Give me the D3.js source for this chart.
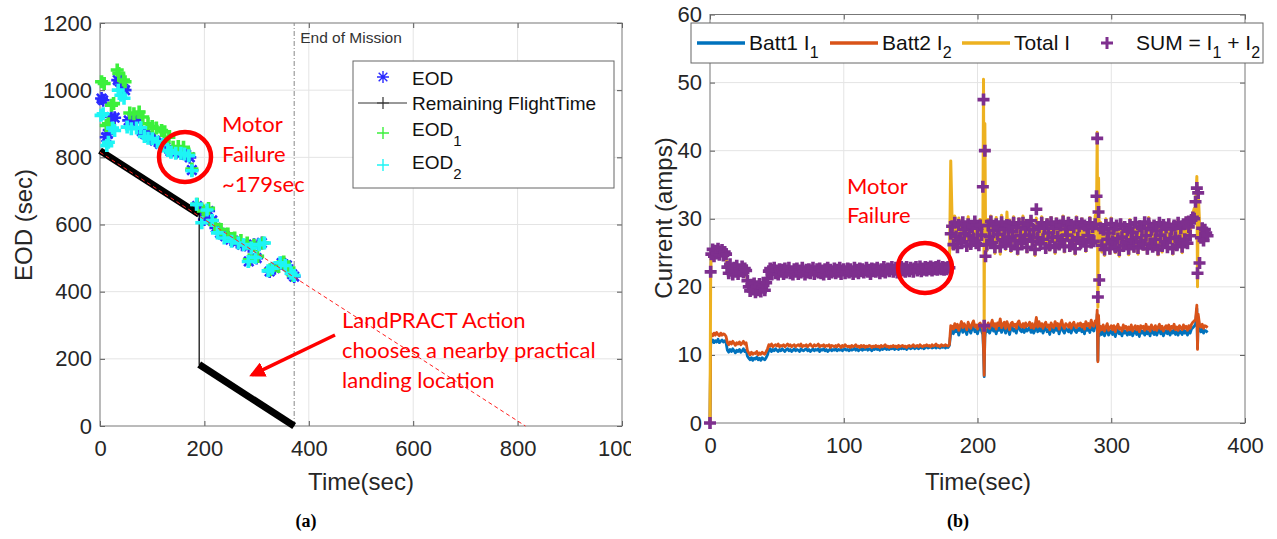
<!DOCTYPE html>
<html><head><meta charset="utf-8">
<script src="https://cdn.jsdelivr.net/npm/d3@7"></script>
<style>
body{margin:0;background:#fff;}
svg{display:block;}
</style></head><body>
<svg id="c" width="1277" height="539"></svg>
<script>
// ---------- Panel (a) data ----------
const eodTime  = [3,6,12,15,22,28,34,38,44,48,55,62,70,80,86,95,105,115,125,135,145,155,165,172,176,186,192,200,208,215,222,230,240,250,262,272,285,295,310,285,300,325,335,348,358,368,372];
const eodValue = [975,970,860,870,920,918,1030,1025,1005,1000,910,905,912,878,870,860,850,840,830,818,815,812,808,800,762,655,640,615,640,612,590,575,565,555,548,540,535,540,545,490,500,460,470,485,478,452,445];
const eod1Time  = [3,8,12,16,22,26,33,36,45,48,57,65,75,82,92,100,108,118,124,132,140,150,160,170,176,186,198,208,220,232,245,258,270,282,295,312,286,302,326,342,352,362,370];
const eod1Value = [1025,1020,895,900,955,960,1060,1050,1030,1025,932,930,935,920,900,892,887,880,876,860,830,832,830,810,765,660,640,648,600,585,572,560,552,545,538,545,495,505,465,475,488,470,448];
const eod2Time  = [2,6,13,16,24,28,35,40,46,52,60,70,78,85,92,100,110,120,130,136,145,155,162,170,176,185,195,205,215,225,238,252,265,275,290,305,315,284,298,322,330,345,355,366,372];
const eod2Value = [925,930,835,845,887,880,1000,985,976,890,885,887,888,862,857,855,846,838,820,815,812,812,810,805,760,660,605,643,612,575,560,550,545,540,530,540,545,490,502,462,470,486,478,455,448];
const remainingTime  = [0,190,190,372];
const remainingValue = [820,630,183,0];
const fitTime  = [0,815];
const fitValue = [815,0];
const endOfMission = 372;
const xTicksA = [0,200,400,600,800,1000];
const yTicksA = [0,200,400,600,800,1000,1200];

// ---------- Panel (b) data ----------
const time = [0,0.5,
1,2,3,4,5,6,7,8,9,10,11,12,13,14,15,16,17,18,19,20,
21,22,23,24,25,26,27,28,29,30,31,32,33,34,35,36,37,38,39,40,
41,42,43,44,45,46,47,48,49,50,51,52,53,54,55,56,57,58,59,60,
61,62,63,64,65,66,67,68,69,70,71,72,73,74,75,76,77,78,79,80,
81,82,83,84,85,86,87,88,89,90,91,92,93,94,95,96,97,98,99,100,
101,102,103,104,105,106,107,108,109,110,111,112,113,114,115,116,117,118,119,120,
121,122,123,124,125,126,127,128,129,130,131,132,133,134,135,136,137,138,139,140,
141,142,143,144,145,146,147,148,149,150,151,152,153,154,155,156,157,158,159,160,
161,162,163,164,165,166,167,168,169,170,171,172,173,174,175,176,177,178,
179,180,
181,182,183,184,185,186,187,188,189,190,191,192,193,194,195,196,197,198,199,200,201,202,203,
204,204.5,205,205.5,206,
207,208,209,210,211,212,213,214,215,216,217,218,219,220,221,222,223,224,225,226,
227,228,229,230,231,232,233,234,235,236,237,238,239,240,241,242,243,244,245,246,
247,248,249,250,251,252,253,254,255,256,257,258,259,260,261,262,263,264,265,266,
267,268,269,270,271,272,273,274,275,276,277,278,279,280,281,282,283,284,285,286,287,288,
289,289.5,290,290.5,291,
292,293,294,295,296,297,298,299,300,301,302,303,304,305,306,307,308,309,310,311,
312,313,314,315,316,317,318,319,320,321,322,323,324,325,326,327,328,329,330,331,
332,333,334,335,336,337,338,339,340,341,342,343,344,345,346,347,348,349,350,351,
352,353,354,355,356,357,358,359,360,361,362,
363,364,364.5,365,366,
367,368,369,370,371,372];

const batt1 = [0,11.5,
11.9,12.2,11.8,12.1,11.9,12.3,11.8,12.0,12.2,11.9,12.1,11.8,
10.7,10.4,10.8,10.5,10.9,10.6,10.3,10.7,10.5,10.8,10.4,10.6,10.9,10.5,10.7,
9.8,9.5,9.3,9.6,9.2,9.5,9.4,9.7,9.3,9.5,9.2,9.6,9.4,9.3,9.6,10.0,
10.7,10.9,10.5,10.8,10.6,10.9,10.7,10.5,10.8,10.6,
10.9,10.7,10.5,10.8,10.9,10.6,10.8,10.5,10.7,10.9,
10.6,10.8,10.7,10.5,10.9,10.7,10.6,10.8,10.9,10.6,
10.8,10.5,10.7,10.9,10.6,10.8,10.7,10.9,10.5,10.8,
10.7,10.9,10.6,10.8,10.5,10.7,10.9,10.6,10.8,10.7,
10.9,10.6,10.8,10.7,10.9,10.6,10.8,10.9,10.7,10.8,
10.6,10.9,10.7,10.8,11.0,10.7,10.9,10.6,10.8,10.9,
10.7,10.9,10.8,11.0,10.7,10.9,10.8,10.6,10.9,10.8,
11.0,10.8,10.9,10.7,11.0,10.8,10.9,11.1,10.8,10.9,
10.8,11.0,10.9,11.1,10.8,11.0,10.9,10.8,11.1,10.9,
11.0,10.9,11.1,10.8,11.0,11.1,10.9,11.0,11.2,10.9,
11.1,11.0,10.9,11.2,11.0,11.1,10.9,11.1,11.2,11.0,
11.1,11.2,11.0,11.1,11.3,11.0,11.2,11.1,11.0,11.2,
11.1,11.3,11.0,11.2,11.1,
11.4,13.2,
13.6,13.1,14.0,13.4,13.8,12.9,13.7,14.2,13.3,13.9,13.5,13.0,14.1,13.6,13.2,13.9,14.3,13.4,13.7,13.1,13.8,14.0,13.5,
13.0,10.5,6.8,12.5,13.6,
13.4,14.0,13.2,13.7,14.4,13.5,13.9,13.1,14.0,13.6,
14.6,13.3,13.8,14.1,13.2,14.2,13.6,13.0,13.9,14.1,
13.5,13.8,13.2,14.0,14.3,13.6,13.4,13.9,13.3,14.0,
13.5,13.7,14.1,13.3,13.9,13.2,13.6,14.8,13.4,14.2,
13.5,13.9,13.2,13.8,14.1,13.4,13.7,13.0,14.0,13.6,
13.3,14.2,13.6,13.9,13.1,13.8,14.4,13.5,13.2,13.9,
13.7,13.4,14.0,13.2,13.8,14.1,13.5,13.3,13.9,13.6,
14.0,13.4,13.8,13.1,14.2,13.6,13.9,13.3,14.4,13.7,
13.5,14.3,
14.2,16.0,9.2,15.2,12.8,
13.5,13.0,13.7,12.8,13.4,13.9,12.9,13.3,13.6,13.0,
13.6,12.7,13.4,13.8,13.1,13.3,12.8,13.7,13.2,13.5,
12.9,13.4,13.0,13.7,12.8,13.3,13.6,13.0,13.5,12.7,
13.6,13.2,13.5,12.9,13.8,13.1,13.4,12.8,13.7,13.3,
13.0,13.6,12.9,13.4,13.8,13.1,13.5,12.8,13.3,13.6,
13.1,13.7,12.9,13.5,13.2,13.8,13.0,13.4,12.9,13.6,
13.3,13.0,13.7,13.2,13.5,12.9,13.6,13.2,13.8,14.0,
14.2,
14.5,16.8,11.0,15.5,13.8,
13.4,13.8,13.2,13.6,13.5,13.3];

const batt2 = [0,12.5,
13.1,12.8,13.2,12.9,13.3,13.0,12.8,13.2,12.9,13.1,13.0,12.7,
11.8,11.5,11.9,11.6,12.0,11.7,11.4,11.8,11.6,11.9,11.5,11.7,12.0,11.6,11.8,
10.6,10.3,10.0,10.4,10.1,10.3,10.2,10.5,10.0,10.3,10.1,10.4,10.2,10.1,10.5,10.9,
11.5,11.3,11.6,11.2,11.4,11.5,11.3,11.6,11.2,11.4,
11.3,11.5,11.2,11.4,11.6,11.3,11.5,11.2,11.4,11.5,
11.2,11.4,11.5,11.3,11.6,11.2,11.4,11.3,11.5,11.2,
11.4,11.6,11.3,11.2,11.5,11.3,11.4,11.6,11.2,11.4,
11.3,11.5,11.2,11.4,11.3,11.5,11.1,11.4,11.3,11.2,
11.4,11.2,11.5,11.3,11.1,11.4,11.2,11.5,11.3,11.2,
11.3,11.1,11.4,11.2,11.3,11.5,11.2,11.3,11.1,11.4,
11.2,11.4,11.1,11.3,11.2,11.4,11.3,11.1,11.3,11.2,
11.4,11.2,11.3,11.1,11.4,11.2,11.3,11.5,11.2,11.3,
11.1,11.3,11.2,11.4,11.2,11.3,11.1,11.4,11.2,11.3,
11.4,11.2,11.3,11.1,11.3,11.4,11.2,11.3,11.5,11.2,
11.3,11.4,11.2,11.5,11.3,11.2,11.4,11.3,11.5,11.3,
11.4,11.2,11.5,11.3,11.4,11.6,11.3,11.4,11.2,11.5,
11.4,11.3,11.5,11.4,11.3,
11.5,14.3,
14.2,13.8,14.6,14.0,14.5,13.6,14.3,14.9,14.0,14.6,14.2,13.7,14.8,14.3,13.9,14.6,15.0,14.1,14.4,13.8,14.5,14.7,14.2,
13.8,11.0,7.0,13.0,14.4,
14.1,14.7,13.9,14.4,15.1,14.2,14.6,13.8,14.7,14.3,
15.3,14.0,14.5,14.8,13.9,14.9,14.3,13.7,14.6,14.8,
14.2,14.5,13.9,14.7,15.0,14.3,14.1,14.6,14.0,14.7,
14.2,14.4,14.8,14.0,14.6,13.9,14.3,15.5,14.1,14.9,
14.2,14.6,13.9,14.5,14.8,14.1,14.4,13.7,14.7,14.3,
14.0,14.9,14.3,14.6,13.8,14.5,15.1,14.2,13.9,14.6,
14.4,14.1,14.7,13.9,14.5,14.8,14.2,14.0,14.6,14.3,
14.7,14.1,14.5,13.8,14.9,14.3,14.6,14.0,15.1,14.4,
14.2,15.0,
14.8,16.6,9.0,15.8,13.4,
14.2,13.7,14.4,13.5,14.1,14.6,13.6,14.0,14.3,13.7,
14.3,13.4,14.1,14.5,13.8,14.0,13.5,14.4,13.9,14.2,
13.6,14.1,13.7,14.4,13.5,14.0,14.3,13.7,14.2,13.4,
14.3,13.9,14.2,13.6,14.5,13.8,14.1,13.5,14.4,14.0,
13.7,14.3,13.6,14.1,14.5,13.8,14.2,13.5,14.0,14.3,
13.8,14.4,13.6,14.2,13.9,14.5,13.7,14.1,13.6,14.3,
14.0,13.7,14.4,13.9,14.2,13.6,14.3,13.9,14.5,14.8,
15.0,
15.2,17.3,10.8,16.0,14.5,
14.1,14.5,13.9,14.3,14.2,14.0];

const totalI = [0,21.8,
25.0,24.8,25.3,24.7,25.2,25.0,24.6,25.3,24.9,25.1,25.0,24.6,
22.6,22.0,22.8,22.2,23.0,22.4,21.8,22.6,22.2,22.8,22.0,22.4,23.0,22.2,22.6,
20.5,19.9,19.4,20.1,19.4,19.9,19.7,20.3,19.4,19.9,19.4,20.1,19.7,19.5,20.2,21.0,
22.2,22.5,21.9,22.3,22.6,22.0,22.4,21.8,22.5,22.2,
22.4,22.0,22.6,21.9,22.3,22.5,22.1,21.8,22.4,22.6,
21.9,22.3,22.5,22.0,22.6,21.9,22.2,22.4,22.0,22.3,
22.5,22.1,21.8,22.4,22.2,22.6,22.0,22.3,21.9,22.5,
22.2,22.6,21.9,22.3,22.0,22.4,22.1,21.8,22.5,22.2,
22.4,21.9,22.3,22.6,22.0,22.2,22.5,21.9,22.3,22.1,
22.0,22.4,22.2,22.6,21.9,22.3,22.5,22.0,22.2,22.6,
22.1,22.5,22.0,22.4,22.2,22.6,22.1,22.3,22.0,22.5,
22.3,22.0,22.6,22.2,22.5,22.1,22.4,22.7,22.2,22.4,
22.1,22.5,22.3,22.7,22.2,22.4,22.0,22.6,22.3,22.5,
22.4,22.2,22.6,22.1,22.5,22.7,22.3,22.4,22.8,22.2,
22.5,22.3,22.7,22.4,22.6,22.2,22.5,22.8,22.3,22.6,
22.4,22.7,22.5,22.3,22.8,22.6,22.4,22.7,22.5,22.9,
22.6,22.8,22.5,22.7,22.6,
23.0,38.5,
29.8,25.6,30.4,27.5,25.2,30.1,28.4,26.0,29.7,26.8,28.9,25.4,30.3,27.9,25.8,29.5,27.1,30.0,26.3,28.6,25.5,29.9,27.3,
27.5,50.5,14.0,44.0,29.0,
25.3,29.9,26.8,30.4,26.0,28.9,24.9,30.2,27.5,29.3,
24.8,30.5,26.7,28.7,25.5,31.0,27.1,29.8,25.2,28.4,
30.3,26.4,29.1,24.8,30.0,27.6,25.7,30.4,26.8,28.8,
25.1,29.7,27.3,30.2,25.9,29.0,24.6,30.1,27.0,29.5,
25.8,30.3,26.5,28.6,25.0,29.9,27.8,25.4,30.2,26.9,
29.2,24.9,30.0,27.2,25.6,29.6,26.3,30.4,25.1,28.7,
27.5,30.1,25.3,29.4,26.6,28.9,24.8,30.3,27.0,29.1,
25.7,30.0,26.4,29.5,25.2,28.8,27.4,30.2,25.9,29.3,
26.2,30.5,
30.5,42.7,17.0,36.0,26.0,
29.5,25.1,28.9,24.6,30.0,26.7,28.3,24.9,30.1,26.3,
29.0,25.0,29.5,26.8,24.5,29.8,27.0,25.3,29.3,26.1,
28.7,24.7,29.9,26.5,28.4,25.2,30.0,27.2,24.8,29.4,
26.4,28.9,25.5,29.7,27.3,24.9,30.2,26.0,28.5,25.4,
29.6,26.8,28.1,24.7,30.0,27.4,25.1,29.2,26.2,28.8,
25.3,29.8,26.9,28.4,24.8,29.5,27.1,25.6,29.9,26.4,
28.6,25.0,29.7,26.6,30.1,25.8,28.9,27.3,30.4,30.8,
31.5,
31.0,36.2,20.0,34.0,29.5,
27.0,29.2,26.4,28.5,27.8,28.2];

const sumI = [0,22.2,
24.8,25.5,24.5,25.3,24.9,25.6,24.7,25.2,25.4,24.6,25.1,24.8,
22.9,22.0,23.3,22.4,21.8,22.8,22.2,23.1,21.9,22.6,22.3,23.0,22.1,22.7,22.4,
20.9,20.0,19.4,20.3,19.6,20.5,19.2,20.1,19.5,20.4,19.3,19.9,20.2,19.5,20.6,21.2,
22.3,22.7,21.9,22.5,22.8,22.0,22.4,21.8,22.6,22.2,
22.5,21.9,22.7,22.1,22.4,22.8,22.0,22.3,21.8,22.6,
22.2,22.7,21.9,22.4,22.1,22.8,22.3,21.8,22.5,22.1,
22.6,22.0,22.4,22.8,21.9,22.3,22.6,22.1,22.7,22.0,
22.4,21.8,22.6,22.2,22.8,21.9,22.5,22.1,22.3,22.7,
22.0,22.5,22.2,22.8,21.9,22.4,22.6,22.0,22.3,22.7,
22.1,22.6,22.3,21.9,22.8,22.2,22.5,22.0,22.7,22.3,
22.6,22.1,22.4,22.8,22.2,22.5,21.9,22.7,22.3,22.6,
22.2,22.8,22.4,22.0,22.6,22.3,22.9,22.1,22.5,22.7,
22.3,22.6,22.9,22.2,22.5,22.8,22.1,22.6,22.4,22.9,
22.4,22.7,22.2,22.9,22.5,22.3,22.8,22.6,22.2,22.7,
22.9,22.4,22.6,23.0,22.3,22.7,22.5,22.9,22.4,22.8,
22.6,23.0,22.4,22.8,22.6,22.9,22.5,23.1,22.7,22.6,
22.9,22.5,22.8,22.6,22.9,
22.8,27.8,
28.9,26.2,29.4,27.4,25.8,29.1,27.0,26.5,29.5,27.8,28.4,26.0,29.2,27.5,26.3,28.8,27.1,29.6,26.4,28.6,26.1,29.0,27.6,
34.7,47.5,14.3,40.0,24.5,
26.2,29.0,27.4,29.6,26.5,28.3,25.8,29.2,27.7,28.7,
25.9,29.5,26.9,28.4,26.3,29.1,27.3,29.0,26.0,28.1,
29.4,26.8,28.7,25.6,29.3,27.5,26.4,29.4,27.0,28.5,
25.8,29.1,27.6,29.7,26.7,28.4,25.5,31.4,27.2,28.8,
26.3,29.4,27.0,28.6,25.7,29.2,27.9,26.1,29.5,27.3,
28.6,25.8,29.3,27.4,26.2,29.0,26.9,29.6,25.9,28.5,
27.6,29.4,26.0,29.1,26.8,28.7,25.6,29.5,27.2,28.9,
26.4,29.3,26.9,29.0,26.0,28.6,27.5,29.4,26.5,28.8,
26.7,29.2,
33.3,41.8,18.5,31.0,21.0,
28.6,26.1,28.4,25.5,29.1,27.0,27.9,25.6,29.3,26.7,
28.5,25.8,29.0,27.1,25.4,29.2,27.3,26.0,28.8,26.5,
28.3,25.6,29.1,26.9,28.0,25.9,29.4,27.2,25.7,28.9,
26.6,28.6,26.2,29.5,27.5,25.6,29.3,26.3,28.4,25.9,
29.0,27.0,28.2,25.5,29.4,27.6,26.0,29.1,26.6,28.7,
25.8,29.2,27.1,28.5,25.6,29.0,27.3,26.1,29.4,26.8,
28.6,25.9,29.2,27.0,29.5,26.4,28.8,27.5,29.8,30.2,
30.0,
32.5,34.5,22.0,33.8,23.5,
27.2,28.6,26.8,28.4,27.9,27.5];
const xTicksB = [0,100,200,300,400];
const yTicksB = [0,10,20,30,40,50,60];

// ---------- drawing ----------
const FONT = '"Liberation Sans", Arial, Helvetica, sans-serif';
const ANNO = 'Lato, "Open Sans", sans-serif';
const svg = d3.select('#c');
const defs = svg.append('defs');
defs.append('clipPath').attr('id','clipA')
  .append('rect').attr('x',0).attr('y',0).attr('width',631).attr('height',539);

const plusPath = s => `M${-s},0H${s}M0,${-s}V${s}`;
const starPath = s => { const d = s*0.72; return `M${-s},0H${s}M0,${-s}V${s}M${-d},${-d}L${d},${d}M${-d},${d}L${d},${-d}`; };

function frame(g, x, y, xt, yt) {
  const [xa, xb] = x.range(), [ya, yb] = y.range();
  const grid = g.append('g');
  grid.selectAll('.gx').data(xt.slice(1,-1)).join('line')
    .attr('x1',d=>x(d)).attr('x2',d=>x(d)).attr('y1',ya).attr('y2',yb)
    .attr('stroke','#e4e4e4').attr('stroke-width',1);
  grid.selectAll('.gy').data(yt.slice(1,-1)).join('line')
    .attr('y1',d=>y(d)).attr('y2',d=>y(d)).attr('x1',xa).attr('x2',xb)
    .attr('stroke','#e4e4e4').attr('stroke-width',1);
  const style = sel => {
    sel.attr('font-family',FONT).attr('font-size',22);
    sel.select('.domain').remove();
    sel.selectAll('text').attr('fill','#262626');
    sel.selectAll('line').attr('stroke','#555');
  };
  const fmt = d => String(d);
  g.append('g').attr('transform',`translate(0,${ya})`)
    .call(d3.axisBottom(x).tickValues(xt).tickFormat(fmt).tickSize(-5).tickSizeOuter(0).tickPadding(14)).call(style);
  g.append('g').attr('transform',`translate(0,${yb})`)
    .call(d3.axisTop(x).tickValues(xt).tickSize(-5).tickSizeOuter(0).tickFormat('')).call(style);
  g.append('g').attr('transform',`translate(${xa},0)`)
    .call(d3.axisLeft(y).tickValues(yt).tickFormat(fmt).tickSize(-5).tickSizeOuter(0).tickPadding(8)).call(style);
  g.append('g').attr('transform',`translate(${xb},0)`)
    .call(d3.axisRight(y).tickValues(yt).tickSize(-5).tickSizeOuter(0).tickFormat('')).call(style);
  g.append('rect').attr('x',xa).attr('y',yb).attr('width',xb-xa).attr('height',ya-yb)
    .attr('fill','none').attr('stroke','#777').attr('stroke-width',1);
}

function scatter(g, x, y, T, V, path, color, w) {
  g.append('g').selectAll('path').data(T.map((t,i)=>[t,V[i]])).join('path')
    .attr('d', path).attr('transform', d=>`translate(${x(d[0])},${y(d[1])})`)
    .attr('stroke', color).attr('stroke-width', w).attr('fill','none');
}

// ===== Panel (a) =====
const gA = svg.append('g').attr('clip-path','url(#clipA)');
const xA = d3.scaleLinear().domain([0,1000]).range([100,622]);
const yA = d3.scaleLinear().domain([0,1200]).range([426,23]);
frame(gA, xA, yA, xTicksA, yTicksA);

gA.append('line').attr('x1',xA(endOfMission)).attr('x2',xA(endOfMission))
  .attr('y1',yA(0)).attr('y2',yA(1200)).attr('stroke','#888').attr('stroke-width',1)
  .attr('stroke-dasharray','5,2,1,2');
gA.append('text').attr('x',xA(endOfMission)+6).attr('y',43).text('End of Mission')
  .attr('font-family',FONT).attr('font-size',15.5).attr('fill','#333');

scatter(gA, xA, yA, eodTime, eodValue, starPath(6.5), '#2a2aff', 2.6);

const remPts = remainingTime.map((t,i)=>[t,remainingValue[i]]);
gA.append('path').attr('d', d3.line().x(d=>xA(d[0])).y(d=>yA(d[1]))(remPts))
  .attr('fill','none').attr('stroke','#000').attr('stroke-width',1.2);
for (let i=0;i<remPts.length-1;i++) {
  if (remPts[i][0] !== remPts[i+1][0]) {
    gA.append('line').attr('x1',xA(remPts[i][0])).attr('y1',yA(remPts[i][1]))
      .attr('x2',xA(remPts[i+1][0])).attr('y2',yA(remPts[i+1][1]))
      .attr('stroke','#000').attr('stroke-width',7);
  }
}
scatter(gA, xA, yA, eod1Time, eod1Value, plusPath(6.5), '#3cf03c', 3.6);
scatter(gA, xA, yA, eod2Time, eod2Value, plusPath(6.5), '#1ef5f5', 3.6);

gA.append('path').attr('d', d3.line().x(t=>xA(t)).y((t,i)=>yA(fitValue[i]))(fitTime))
  .attr('fill','none').attr('stroke','#ff2020').attr('stroke-width',1).attr('stroke-dasharray','4,3');

// legend (a)
const lgA = gA.append('g');
lgA.append('rect').attr('x',353).attr('y',61).attr('width',261).attr('height',127)
  .attr('fill','#fff').attr('stroke','#666').attr('stroke-width',1);
lgA.append('path').attr('d',starPath(6)).attr('transform','translate(383,77)').attr('stroke','#2a2aff').attr('stroke-width',1.4).attr('fill','none');
lgA.append('line').attr('x1',358).attr('x2',407).attr('y1',103).attr('y2',103).attr('stroke','#333').attr('stroke-width',1);
lgA.append('path').attr('d',plusPath(6)).attr('transform','translate(383,103)').attr('stroke','#333').attr('stroke-width',1.2);
lgA.append('path').attr('d',plusPath(6)).attr('transform','translate(383,133)').attr('stroke','#3cf03c').attr('stroke-width',1.4);
lgA.append('path').attr('d',plusPath(6)).attr('transform','translate(383,165)').attr('stroke','#1ef5f5').attr('stroke-width',1.4);
const lgTxt = (x,y,main,sub) => {
  const t = lgA.append('text').attr('x',x).attr('y',y).attr('font-family',FONT).attr('font-size',19).attr('fill','#111').attr('dominant-baseline','central');
  t.append('tspan').text(main);
  if (sub) t.append('tspan').attr('font-size',15).attr('dy',11).text(sub);
};
lgTxt(412,78,'EOD');
lgTxt(412,103,'Remaining FlightTime');
lgTxt(412,129,'EOD','1');
lgTxt(412,162,'EOD','2');

// annotations (a)
gA.append('ellipse').attr('cx',185).attr('cy',157).attr('rx',26).attr('ry',25)
  .attr('fill','none').attr('stroke','#ff0000').attr('stroke-width',4.5);
[['Motor',132],['Failure',162],['~179sec',192]].forEach(([s,y])=>
  gA.append('text').attr('x',222).attr('y',y).text(s).attr('font-family',ANNO).attr('font-size',22).attr('fill','#ff0000'));
[['LandPRACT Action',328],['chooses a nearby practical',358],['landing location',388]].forEach(([s,y])=>
  gA.append('text').attr('x',342).attr('y',y).text(s).attr('font-family',ANNO).attr('font-size',22).attr('fill','#ff0000'));
defs.append('marker').attr('id','ah').attr('viewBox','0 0 10 10').attr('refX',8).attr('refY',5)
  .attr('markerWidth',4.5).attr('markerHeight',4.5).attr('orient','auto')
  .append('path').attr('d','M0,0L10,5L0,10z').attr('fill','#ff0000');
gA.append('line').attr('x1',335).attr('y1',335).attr('x2',252).attr('y2',375)
  .attr('stroke','#ff0000').attr('stroke-width',3.5).attr('marker-end','url(#ah)');

gA.append('text').attr('transform','translate(32,225) rotate(-90)').attr('text-anchor','middle')
  .attr('font-family',FONT).attr('font-size',24).attr('fill','#262626').text('EOD (sec)');
gA.append('text').attr('x',361).attr('y',490).attr('text-anchor','middle')
  .attr('font-family',FONT).attr('font-size',24).attr('fill','#262626').text('Time(sec)');
svg.append('text').attr('x',306).attr('y',527).attr('text-anchor','middle')
  .attr('font-family','"Liberation Serif", "Times New Roman", serif').attr('font-weight','bold').attr('font-size',18).text('(a)');

// ===== Panel (b) =====
const gB = svg.append('g');
const xB = d3.scaleLinear().domain([0,400]).range([710,1245]);
const yB = d3.scaleLinear().domain([0,60]).range([423,14.5]);
frame(gB, xB, yB, xTicksB, yTicksB);

const lineB = vals => d3.line().x((d,i)=>xB(time[i])).y(d=>yB(d))(vals);
gB.append('path').attr('d',lineB(batt1)).attr('fill','none').attr('stroke','#0072BD').attr('stroke-width',2.8).attr('stroke-linejoin','round');
gB.append('path').attr('d',lineB(batt2)).attr('fill','none').attr('stroke','#D95319').attr('stroke-width',2.8).attr('stroke-linejoin','round');
gB.append('path').attr('d',lineB(totalI)).attr('fill','none').attr('stroke','#EDB120').attr('stroke-width',3).attr('stroke-linejoin','round');
scatter(gB, xB, yB, time, sumI, plusPath(6), '#7E2F8E', 3.6);

// legend (b)
const lgB = gB.append('g');
lgB.append('rect').attr('x',691).attr('y',23).attr('width',572).attr('height',40)
  .attr('fill','#fff').attr('stroke','#666').attr('stroke-width',1);
[[697,745,'#0072BD'],[830,878,'#D95319'],[962,1010,'#EDB120']].forEach(([a,b,c])=>
  lgB.append('line').attr('x1',a).attr('x2',b).attr('y1',43).attr('y2',43).attr('stroke',c).attr('stroke-width',3.5));
lgB.append('path').attr('d',plusPath(6)).attr('transform','translate(1107,43)').attr('stroke','#7E2F8E').attr('stroke-width',3);
const lgTxtB = (x, parts) => {
  const t = lgB.append('text').attr('x',x).attr('y',42).attr('font-family',FONT).attr('font-size',21).attr('fill','#111').attr('dominant-baseline','central');
  let wasSub = false;
  parts.forEach(([s,sub])=>{
    const ts = t.append('tspan').text(s);
    if (sub) { ts.attr('font-size',16).attr('dy',10); wasSub = true; }
    else { ts.attr('dy', wasSub ? -10 : 0); wasSub = false; }
  });
};
lgTxtB(749,[['Batt1 I'],['1',true]]);
lgTxtB(882,[['Batt2 I'],['2',true]]);
lgTxtB(1014,[['Total I']]);
lgTxtB(1136,[['SUM = I'],['1',true],[' + I'],['2',true]]);

// annotations (b)
gB.append('ellipse').attr('cx',925).attr('cy',268).attr('rx',27).attr('ry',25)
  .attr('fill','none').attr('stroke','#ff0000').attr('stroke-width',4.5);
[['Motor',194],['Failure',223]].forEach(([s,y])=>
  gB.append('text').attr('x',847).attr('y',y).text(s).attr('font-family',ANNO).attr('font-size',22).attr('fill','#ff0000'));

gB.append('text').attr('transform','translate(672,218) rotate(-90)').attr('text-anchor','middle')
  .attr('font-family',FONT).attr('font-size',24).attr('fill','#262626').text('Current (amps)');
gB.append('text').attr('x',978).attr('y',490).attr('text-anchor','middle')
  .attr('font-family',FONT).attr('font-size',24).attr('fill','#262626').text('Time(sec)');
svg.append('text').attr('x',958).attr('y',527).attr('text-anchor','middle')
  .attr('font-family','"Liberation Serif", "Times New Roman", serif').attr('font-weight','bold').attr('font-size',18).text('(b)');
</script>
</body></html>
